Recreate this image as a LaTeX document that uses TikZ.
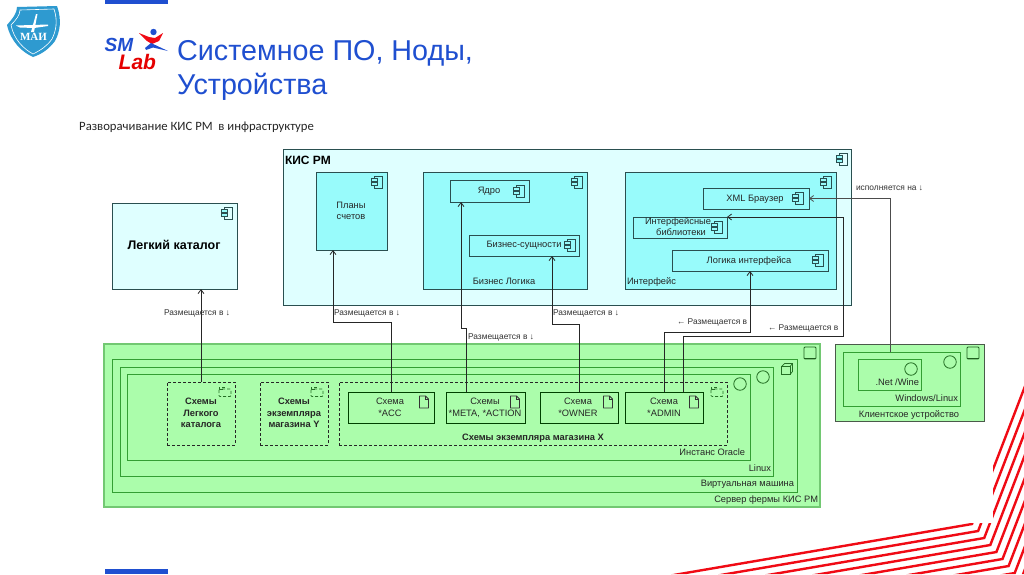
\documentclass[tikz,border=0pt]{standalone}
\usepackage{fontspec}
\setmainfont{Liberation Sans}
\newfontfamily\carl{Carlito}
\newfontfamily\maiserif{Liberation Serif}
\usetikzlibrary{arrows.meta}
\definecolor{headblue}{HTML}{1F4FD0}
\definecolor{kisfill}{HTML}{DFFFFF}
\definecolor{aquafill}{HTML}{98FBFB}
\definecolor{aqualine}{HTML}{2A4F50}
\definecolor{greenfill}{HTML}{ABFDAB}
\definecolor{greenline}{HTML}{339E33}
\definecolor{greenout}{HTML}{72C872}
\definecolor{greydark}{HTML}{4A5A4A}
\definecolor{mairblue}{HTML}{2E9AD0}
\definecolor{stripe}{HTML}{F00A14}
\tikzset{
  boxbase/.style={rectangle,inner sep=0pt,outer sep=0pt},
  kisbox/.style={boxbase,draw=aqualine,fill=kisfill,line width=.95pt},
  aquabox/.style={boxbase,draw=aqualine,fill=aquafill,line width=.9pt},
  greenbox/.style={boxbase,draw=greenline,fill=greenfill,line width=.95pt},
  serverbox/.style={boxbase,draw=greenout,fill=greenfill,line width=1.1pt},
  clientbox/.style={boxbase,draw=greydark,fill=greenfill,line width=.95pt},
  dashbox/.style={boxbase,draw=black!85,densely dashed,line width=.8pt},
  schemabox/.style={boxbase,draw=black!75!green,fill=greenfill,line width=.9pt},
  txt/.style={inner sep=0pt,outer sep=0pt,text height=6.6pt,text depth=2pt,font=\fontsize{9.3}{11}\selectfont,text=black!85},
  btxt/.style={txt,font=\fontsize{9.3}{11}\selectfont\bfseries},
  rel/.style={txt,font=\fontsize{8.4}{10}\selectfont,text=black!80},
  conn/.style={draw=black!85,line width=.8pt,-{Straight Barb[length=4pt,width=6pt]}},
  compicon/.pic={
    \draw[aqualine,line width=.7pt] (-3,-6) rectangle (5,6);
    \draw[aqualine,line width=.7pt,fill=aquafill] (-6,-3.5) rectangle (0,-.8);
    \draw[aqualine,line width=.7pt,fill=aquafill] (-6,.8) rectangle (0,3.5);
  },
  docicon/.pic={
    \draw[black!80,line width=.8pt,line join=round] (-4.5,-6) -- (1.5,-6) -- (4.5,-3) -- (4.5,6) -- (-4.5,6) -- cycle;
    \draw[black!80,line width=.5pt] (1.5,-6) -- (1.5,-3) -- (4.5,-3);
  },
  pkgicon/.pic={
    \draw[greenline!70!black,densely dashed,line width=.7pt,rounded corners=1pt] (-6,-3) rectangle (6,4.5);
    \draw[greenline!70!black,densely dashed,line width=.7pt] (-6,-3) rectangle (-1,-5);
  },
  cubeicon/.pic={
    \draw[greenline!70!black,line width=.7pt] (-5.5,-2.5) rectangle (3,5.5);
    \draw[greenline!70!black,line width=.7pt] (-5.5,-2.5) -- (-2.5,-5.5) -- (5.5,-5.5) -- (5.5,2.5) -- (3,5.5);
    \draw[greenline!70!black,line width=.7pt] (3,-2.5) -- (5.5,-5.5);
  },
  nodeicon/.pic={
    \draw[greenline!60!black,line width=.8pt,rounded corners=1pt] (-6,-6) rectangle (6,6);
    \draw[greenline!60!black,line width=1.2pt] (-5.5,5.5) -- (5.5,5.5);
  },
  circicon/.style={draw=greenline!70!black,line width=.8pt,circle,inner sep=0pt,minimum size=12.5pt}
}
\newcommand\bx[6]{%
  \pgfmathsetmacro\bxw{#4-#2}\pgfmathsetmacro\bxh{#5-#3}%
  \node[#6,minimum width=\bxw pt,minimum height=\bxh pt] (#1) at ({(#2+#4)/2},{(#3+#5)/2}) {};}
\begin{document}
\begin{tikzpicture}[x=1pt,y=-1pt]
\useasboundingbox (0,0) rectangle (1024,574);
\fill[white] (0,0) rectangle (1024,574);

% top / bottom bars
\fill[headblue] (105,0) rectangle (168,4);
\fill[headblue] (105,569) rectangle (168,574);

% red stripes
\begin{scope}
\clip (993,0) -- (1024,0) -- (1024,574) -- (0,574) -- (0,523) -- (993,523) -- cycle;
\foreach \k in {0,...,10}{
  \draw[stripe,line width=2.4pt,line join=miter]
    ({972+6.1*\k-400},{524+7*\k+68.4}) -- ({972+6.1*\k},{524+7*\k}) -- ({972+6.1*\k+80},{524+7*\k-208});
}
\end{scope}

% MAI shield
\fill[mairblue] (7,25) .. controls (13,18) and (17,13) .. (17,7) -- (57,6) .. controls (62,20) and (60,32) .. (55,41) .. controls (49,49) and (42,54) .. (33,57) .. controls (22,52) and (11,42) .. (7,25) -- cycle;
\draw[white,line width=.6pt] (11,25) .. controls (16,20) and (20,15) .. (20,10) -- (54,9) .. controls (58,21) and (56,31) .. (52,39) .. controls (47,46) and (41,50) .. (33,54) .. controls (24,49) and (14,40) .. (11,25) -- cycle;
\fill[white] (31,32) -- (36,14) -- (37.5,14) -- (34,32) -- cycle;
\fill[white] (16,25.5) -- (48,24.5) -- (48,26) -- (34,28) -- (20,27.5) -- cycle;
\node[inner sep=0pt,text=white,font=\maiserif\fontsize{11}{12}\selectfont\bfseries] (mai) at (33.5,37) {МАИ};

% SMLab logo
\node[inner sep=0pt,anchor=west,text=headblue,font=\fontsize{19}{20}\selectfont\bfseries\itshape] (smtext) at (104.5,44.5) {SM};
\node[inner sep=0pt,anchor=west,text=red!90!black,font=\fontsize{21}{22}\selectfont\bfseries\itshape] (labtext) at (118.5,62) {Lab};
\fill[headblue] (153.5,32) circle (3.2);
\fill[stripe] (139,33) -- (149,37) -- (155,38) -- (163,33) -- (159,41) -- (152,44) -- (147,41) -- cycle;
\fill[headblue] (151,43) -- (168,51) -- (153,47.5) -- (146,50) -- (145,48) -- cycle;

% heading
\node[inner sep=0pt,anchor=west,text=headblue,font=\fontsize{28.7}{30}\selectfont] (h1) at (177,53.5) {Системное ПО, Ноды,};
\node[inner sep=0pt,anchor=west,text=headblue,font=\fontsize{28.7}{30}\selectfont] (h2) at (177,86.5) {Устройства};
\node[inner sep=0pt,anchor=west,text=black!85,font=\carl\fontsize{12.7}{14}\selectfont] (sub) at (79,127.5) {Разворачивание КИС РМ\ \ в инфраструктуре};

% KIS RM
\bx{kis}{283}{149}{851.5}{305}{kisbox}
\bx{plans}{316}{172}{387}{250}{aquabox}
\bx{biz}{423}{172}{587}{289}{aquabox}
\bx{core}{450}{180}{529}{202}{aquabox}
\bx{ent}{469}{235}{579}{256}{aquabox}
\bx{ui}{625}{172}{836}{289}{aquabox}
\bx{xml}{703}{188}{809}{209}{aquabox}
\bx{libs}{633}{217}{727}{238}{aquabox}
\bx{logic}{672}{250}{828}{271}{aquabox}
\bx{cat}{112}{203}{237}{289}{kisbox}

\pic at (842,159) {compicon};
\pic at (377,182) {compicon};
\pic at (577,182) {compicon};
\pic at (519,191) {compicon};
\pic at (570,245) {compicon};
\pic at (826,182) {compicon};
\pic at (798,198) {compicon};
\pic at (717,227) {compicon};
\pic at (818,260) {compicon};
\pic at (227,213) {compicon};

\node[txt,anchor=west,font=\fontsize{12}{13}\selectfont\bfseries,text=black] (tkis) at (285,162) {КИС РМ};
\node[txt] (tplans1) at (351,206) {Планы};
\node[txt] (tplans2) at (351,217) {счетов};
\node[txt] (tcore) at (489,191) {Ядро};
\node[txt] (tent) at (524,245) {Бизнес-сущности};
\node[txt] (tbiz) at (504,282) {Бизнес Логика};
\node[txt] (txml) at (755,199) {XML Браузер};
\node[txt] (tlibs1) at (678,222) {Интерфейсные};
\node[txt] (tlibs2) at (681,233) {библиотеки};
\node[txt] (tlogic) at (749,261) {Логика интерфейса};
\node[txt,anchor=west] (tui) at (627,282) {Интерфейс};
\node[txt,font=\fontsize{12.5}{14}\selectfont\bfseries,text=black] (tcat) at (174,247) {Легкий каталог};

% Green nested boxes
\bx{server}{104}{344}{820}{507}{serverbox}
\bx{vm}{112}{359}{797}{492}{greenbox}
\bx{linux}{120}{367}{773}{476}{greenbox}
\bx{oracle}{127}{374}{750}{460}{greenbox}
\bx{d1}{167}{382}{235}{445}{dashbox}
\bx{d2}{260}{382}{328}{445}{dashbox}
\bx{d3}{339}{382}{727}{445}{dashbox}
\bx{acc}{348}{392}{434}{423}{schemabox}
\bx{meta}{446}{392}{525}{423}{schemabox}
\bx{owner}{540}{392}{618}{423}{schemabox}
\bx{admin}{625}{392}{703}{423}{schemabox}
\bx{client}{835}{344}{984}{421}{clientbox}
\bx{win}{843}{352}{960}{406}{greenbox}
\bx{net}{858}{359}{921}{390}{greenbox}

\pic at (225,392) {pkgicon};
\pic at (317,392) {pkgicon};
\pic at (717,392) {pkgicon};
\pic at (424,402) {docicon};
\pic at (515,402) {docicon};
\pic at (608,402) {docicon};
\pic at (694,402) {docicon};
\pic at (787,369) {cubeicon};
\pic at (810,353) {nodeicon};
\pic at (973,353) {nodeicon};
\node[circicon] (c1) at (740,384) {};
\node[circicon] (c2) at (763,377) {};
\node[circicon] (c3) at (950,362) {};
\node[circicon] (c4) at (911,369) {};

\node[btxt] (s1a) at (201,402) {Схемы};
\node[btxt] (s1b) at (201,414) {Легкого};
\node[btxt] (s1c) at (201,425) {каталога};
\node[btxt] (s2a) at (294,402) {Схемы};
\node[btxt] (s2b) at (294,414) {экземпляра};
\node[btxt] (s2c) at (294,425) {магазина Y};
\node[txt] (acc1) at (390,402) {Схема};
\node[txt] (acc2) at (390,414) {*ACC};
\node[txt] (meta1) at (485,402) {Схемы};
\node[txt] (meta2) at (485,414) {*META, *ACTION};
\node[txt] (own1) at (578,402) {Схема};
\node[txt] (own2) at (578,414) {*OWNER};
\node[txt] (adm1) at (664,402) {Схема};
\node[txt] (adm2) at (664,414) {*ADMIN};
\node[btxt] (tx) at (533,438) {Схемы экземпляра магазина X};
\node[txt,anchor=east] (tora) at (745,453) {Инстанс Oracle};
\node[txt,anchor=east] (tlin) at (771,469) {Linux};
\node[txt,anchor=east] (tvm) at (794,484) {Виртуальная машина};
\node[txt,anchor=east] (tsrv) at (818,500) {Сервер фермы КИС РМ};
\node[txt] (tcli) at (909,415) {Клиентское устройство};
\node[txt,anchor=east] (twin) at (958,399) {Windows/Linux};
\node[txt,anchor=east] (tnet) at (919,383) {.Net /Wine};

% connectors
\draw[conn] (d1.north) -- ([xshift=26.5pt]cat.south);
\draw[conn] (acc.north) -- ++(0,-70) -| ([xshift=-18.5pt]plans.south);
\draw[conn] ([xshift=-19.5pt]meta.north) -- ++(0,-64) -| ([xshift=-28.5pt]core.south);
\draw[conn] (owner.north) -- ++(0,-68) -| ([xshift=28pt]ent.south);
\draw[conn] (admin.north) -- ++(0,-60) -| (logic.south);
\draw[conn] ([xshift=19pt]admin.north) -- ++(0,-56) -- ++(160,0) |- (libs.north east);
\draw[conn,draw=black!70] ([xshift=-11.5pt]win.north) |- (xml.east);

% connector labels
\node[rel,anchor=west] (r1) at (164,313) {Размещается в ↓};
\node[rel,anchor=west] (r2) at (334,313) {Размещается в ↓};
\node[rel,anchor=west] (r3) at (468,337) {Размещается в ↓};
\node[rel,anchor=west] (r4) at (553,313) {Размещается в ↓};
\node[rel,anchor=west] (r5) at (677,322) {← Размещается в};
\node[rel,anchor=west] (r6) at (768,328) {← Размещается в};
\node[rel,anchor=west] (r7) at (856,188) {исполняется на ↓};
\end{tikzpicture}
\end{document}
